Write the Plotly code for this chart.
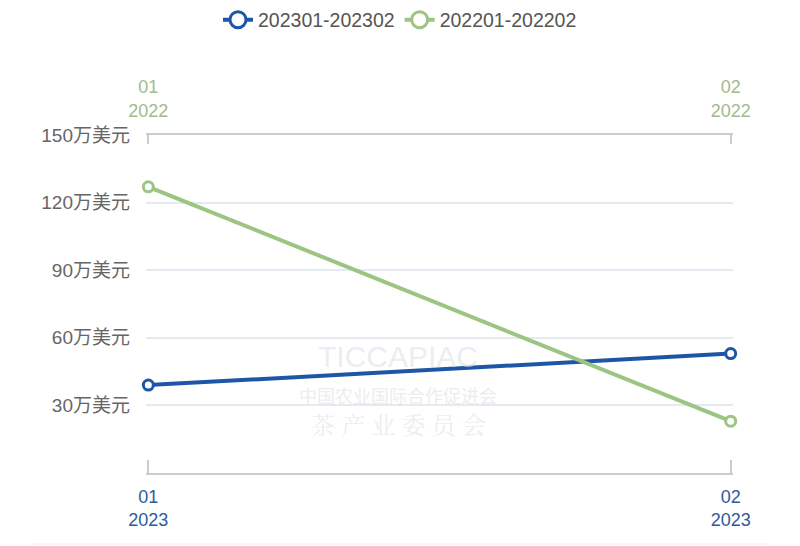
import plotly.graph_objects as go

months_2023 = ["01<br>2023", "02<br>2023"]
months_2022 = ["01<br>2022", "02<br>2022"]
values_2023 = [39, 53]
values_2022 = [127, 23]
name_2023 = "202301-202302"
name_2022 = "202201-202202"
y_ticks = [30, 60, 90, 120, 150]
y_labels = [f"{v}万美元" for v in y_ticks]

BLUE = "#1f55a6"
GREEN = "#9cc482"
FONT = "Liberation Sans, Noto Sans CJK SC, sans-serif"

fig = go.Figure()
for xs, ys, name, color, xa in [(months_2023, values_2023, name_2023, BLUE, "x"),
                                (months_2022, values_2022, name_2022, GREEN, "x2")]:
    fig.add_trace(go.Scatter(
        x=xs, y=ys, name=name, xaxis=xa, yaxis="y", showlegend=False,
        mode="lines+markers", line=dict(color=color, width=4),
        marker=dict(symbol="circle", size=10, color="white", line=dict(color=color, width=3)),
        cliponaxis=False,
    ))
# legend entries (bigger symbols, as in the reference legend)
for name, color in [(name_2023, BLUE), (name_2022, GREEN)]:
    fig.add_trace(go.Scatter(
        x=[None], y=[None], name=name, mode="lines+markers", showlegend=True,
        line=dict(color=color, width=4),
        marker=dict(symbol="circle", size=16, color="white", line=dict(color=color, width=3)),
    ))

# watermark text
wm = "rgba(222,225,229,0.6)"
fig.add_annotation(x=0.43, y=0.345, xref="paper", yref="paper", text="TICCAPIAC", showarrow=False,
                   font=dict(family=FONT, size=30, color=wm))
fig.add_annotation(x=0.43, y=0.19, xref="paper", yref="paper", text="中国农业国际合作促进会", showarrow=False,
                   font=dict(family=FONT, size=18, color=wm))
fig.add_annotation(x=0.43, y=0.09, xref="paper", yref="paper", text="茶 产 业 委 员 会", showarrow=False,
                   font=dict(family="Noto Serif CJK SC, Noto Sans CJK SC", size=24, color=wm))

fig.add_shape(type="line", xref="paper", yref="paper", x0=-0.194, x1=1.058, y0=-0.21, y1=-0.21,
              line=dict(color="#eeeeee", width=1))

fig.update_layout(
    width=800, height=546,
    margin=dict(l=138, r=75, t=127, b=81),
    paper_bgcolor="white", plot_bgcolor="white",
    font=dict(family=FONT, color="#666666"),
    showlegend=True,
    legend=dict(orientation="h", x=0.49, xref="container", xanchor="center",
                y=0.978, yref="container", yanchor="middle",
                font=dict(size=19.5, color="#555555"), itemsizing="trace"),
    xaxis=dict(type="category", range=[-0.004, 1.004], showgrid=False, showline=True,
               linecolor="#cccccc", linewidth=2, ticks="inside", ticklen=13, tickwidth=2,
               tickcolor="#cccccc", tickfont=dict(size=18, color="#2d5b9a"),
               ticklabelstandoff=6, zeroline=False, automargin=False),
    xaxis2=dict(type="category", range=[-0.004, 1.004], overlaying="x", side="top", showgrid=False,
                showline=True, linecolor="#cccccc", linewidth=2, ticks="inside", ticklen=9,
                tickwidth=2, tickcolor="#cccccc", tickfont=dict(size=18, color="#a2ba8e"),
                ticklabelstandoff=9, zeroline=False, automargin=False),
    yaxis=dict(range=[0, 150], tickvals=y_ticks, ticktext=y_labels, showgrid=True,
               gridcolor="#e4eaf2", gridwidth=1.5, zeroline=False, showline=False,
               tickfont=dict(size=19, color="#666666"), ticklabelstandoff=15, automargin=False),
)

fig.write_html("out.html")
